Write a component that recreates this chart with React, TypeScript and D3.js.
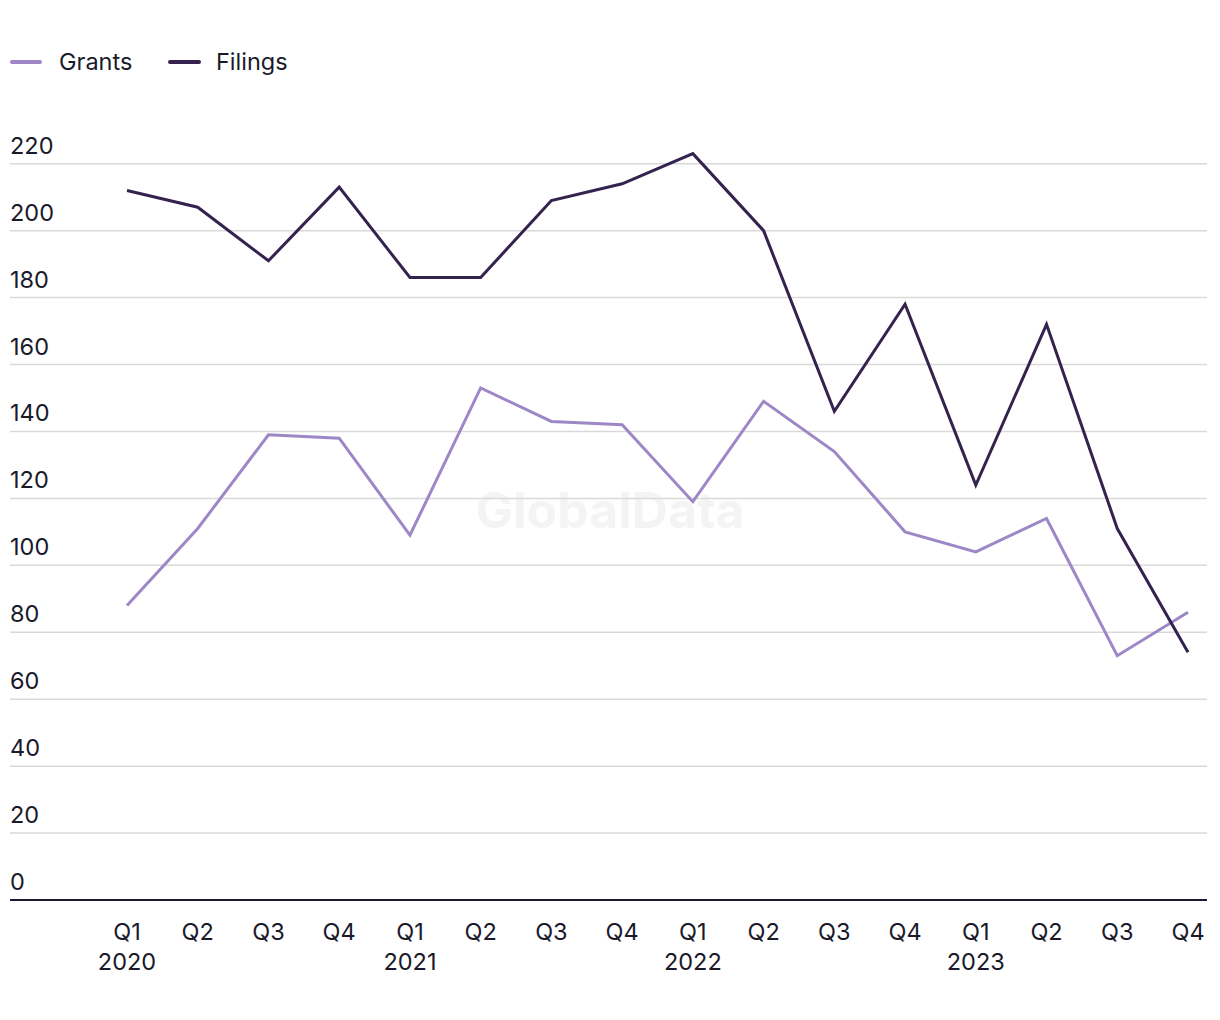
import React from "react";
import * as d3 from "d3";

const quarters = ["Q1", "Q2", "Q3", "Q4", "Q1", "Q2", "Q3", "Q4", "Q1", "Q2", "Q3", "Q4", "Q1", "Q2", "Q3", "Q4"];
const years = ["2020", "", "", "", "2021", "", "", "", "2022", "", "", "", "2023", "", "", ""];
const grants = [88, 111, 139, 138, 109, 153, 143, 142, 119, 149, 134, 110, 104, 114, 73, 86];
const filings = [212, 207, 191, 213, 186, 186, 209, 214, 223, 200, 146, 178, 124, 172, 111, 74];
const yTicks = [0, 20, 40, 60, 80, 100, 120, 140, 160, 180, 200, 220];

const GRANTS_COLOR = "#9d87c6";
const FILINGS_COLOR = "#35234f";
const TEXT_COLOR = "#1a1a2b";
const FONT = "Inter, 'Noto Sans', sans-serif";
const FS = 23.5;

export default function App() {
  const width = 1220;
  const height = 1020;
  const left = 10;
  const right = 1207;
  const x = d3.scalePoint<number>().domain(d3.range(quarters.length)).range([127, 1188]);
  const y = d3.scaleLinear().domain([0, 220]).range([900, 163.7]);
  const line = d3
    .line<number>()
    .x((_, i) => x(i) as number)
    .y((d) => y(d));

  return (
    <svg
      width={width}
      height={height}
      style={{ position: "absolute", left: 0, top: 0, background: "#fff" }}
      fontFamily={FONT}
    >
      {/* legend */}
      <g>
        <line x1={12} x2={40} y1={62} y2={62} stroke={GRANTS_COLOR} strokeWidth={4} strokeLinecap="round" />
        <text x={59} y={70} fontSize={FS} fill={TEXT_COLOR}>Grants</text>
        <line x1={170} x2={199} y1={62} y2={62} stroke={FILINGS_COLOR} strokeWidth={4} strokeLinecap="round" />
        <text x={216} y={70} fontSize={FS} fill={TEXT_COLOR}>Filings</text>
      </g>

      {/* watermark */}
      <text x={610} y={528} textAnchor="middle" fontSize={50} fontWeight={700} fill="#f4f4f4">
        GlobalData
      </text>

      {/* grid + y labels */}
      {yTicks.map((t) => (
        <g key={t}>
          {t !== 0 && (
            <line x1={left} x2={right} y1={y(t)} y2={y(t)} stroke="#d9d9d9" strokeWidth={1.5} />
          )}
          <text x={left} y={y(t) - 10} fontSize={FS} fill={TEXT_COLOR}>
            {t}
          </text>
        </g>
      ))}

      {/* series */}
      <path d={line(grants) || ""} fill="none" stroke={GRANTS_COLOR} strokeWidth={3} strokeLinejoin="miter" />
      <path d={line(filings) || ""} fill="none" stroke={FILINGS_COLOR} strokeWidth={3} strokeLinejoin="miter" />

      {/* baseline */}
      <line x1={left} x2={right} y1={y(0)} y2={y(0)} stroke="#1a1a2e" strokeWidth={2} />

      {/* x labels */}
      {quarters.map((q, i) => (
        <g key={i}>
          <text x={x(i)} y={940} textAnchor="middle" fontSize={FS} fill={TEXT_COLOR}>
            {q}
          </text>
          {years[i] && (
            <text x={x(i)} y={970} textAnchor="middle" fontSize={FS} fill={TEXT_COLOR}>
              {years[i]}
            </text>
          )}
        </g>
      ))}
    </svg>
  );
}
